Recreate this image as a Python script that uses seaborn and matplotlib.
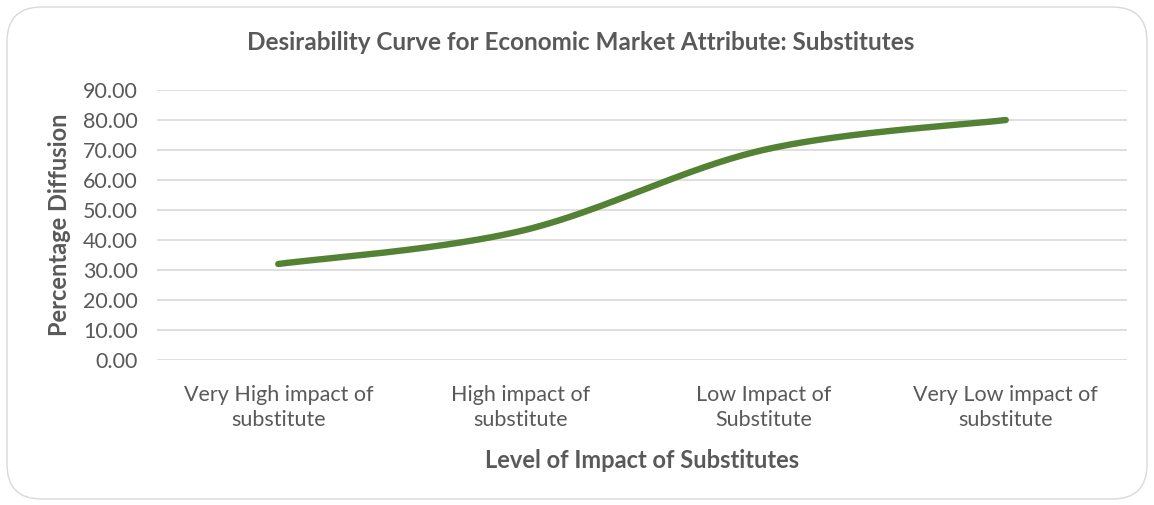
import numpy as np
import pandas as pd
import matplotlib
matplotlib.use("Agg")
import matplotlib.pyplot as plt
from matplotlib.patches import FancyBboxPatch
import seaborn as sns

categories = ["Very High impact of\nsubstitute", "High impact of\nsubstitute",
              "Low Impact of\nSubstitute", "Very Low impact of\nsubstitute"]
values = [32.0, 43.0, 70.0, 80.0]
yticks = [0, 10, 20, 30, 40, 50, 60, 70, 80, 90]

title = "Desirability Curve for Economic Market Attribute: Substitutes"
xlabel = "Level of Impact of Substitutes"
ylabel = "Percentage Diffusion"


def smooth(xs, ys, n=60):
    # Excel-style smoothed line: Bezier segments with Catmull-Rom control points
    xs = np.asarray(xs, float); ys = np.asarray(ys, float)
    px = np.concatenate([[xs[0]], xs, [xs[-1]]])
    py = np.concatenate([[ys[0]], ys, [ys[-1]]])
    outx, outy = [], []
    t = np.linspace(0, 1, n)
    for i in range(1, len(px) - 2):
        p0 = np.array([px[i], py[i]]); p3 = np.array([px[i + 1], py[i + 1]])
        p1 = p0 + (np.array([px[i + 1], py[i + 1]]) - np.array([px[i - 1], py[i - 1]])) / 6
        p2 = p3 - (np.array([px[i + 2], py[i + 2]]) - np.array([px[i], py[i]])) / 6
        b = ((1 - t) ** 3)[:, None] * p0 + (3 * (1 - t) ** 2 * t)[:, None] * p1 \
            + (3 * (1 - t) * t ** 2)[:, None] * p2 + (t ** 3)[:, None] * p3
        outx.extend(b[:, 0]); outy.extend(b[:, 1])
    return np.array(outx), np.array(outy)


sns.set_theme(style="white")
plt.rcParams['font.family'] = ['Lato', 'DejaVu Sans']

text_color = "#595959"
fig = plt.figure(figsize=(11.54, 5.05), dpi=100)
ax = fig.add_axes([157 / 1154, 1 - 360 / 505, 970 / 1154, 270 / 505])

sx, sy = smooth(range(len(values)), values)
df = pd.DataFrame({"x": sx, "y": sy})
sns.lineplot(data=df, x="x", y="y", ax=ax, sort=False, color="#548235",
             linewidth=4.6, solid_capstyle="round")

ax.set_xlim(-0.5, len(categories) - 0.5)
ax.set_ylim(0, 90)
ax.set_yticks(yticks)
ax.set_yticklabels([f"{v:.2f}" for v in yticks], fontsize=15.5, color=text_color)
ax.set_xticks(range(len(categories)))
ax.set_xticklabels(categories, fontsize=15.5, color=text_color, linespacing=1.3)
ax.tick_params(axis="y", length=0, pad=14)
ax.tick_params(axis="x", length=0, pad=18)
ax.yaxis.grid(True, color="#d9d9d9", linewidth=1.2)
ax.set_axisbelow(True)
for s in ax.spines.values():
    s.set_visible(False)
ax.set_xlabel(xlabel, fontsize=17, fontweight="bold", color=text_color, labelpad=14)
ax.set_ylabel(ylabel, fontsize=17, fontweight="bold", color=text_color)
ax.yaxis.set_label_coords(-0.089, 0.5)

fig.text(581 / 1154, 1 - 43 / 505, title, ha="center", va="center",
         fontsize=17.5, fontweight="bold", color=text_color)

border = FancyBboxPatch((7 / 1154, 6 / 505), 1140 / 1154, 492 / 505,
                        boxstyle="round,pad=0,rounding_size=0.03",
                        transform=fig.transFigure, facecolor="none",
                        edgecolor="#d9d9d9", linewidth=1.0, mutation_aspect=1154 / 505)
fig.patches.append(border)

fig.savefig("out.png", dpi=100, facecolor="white")
